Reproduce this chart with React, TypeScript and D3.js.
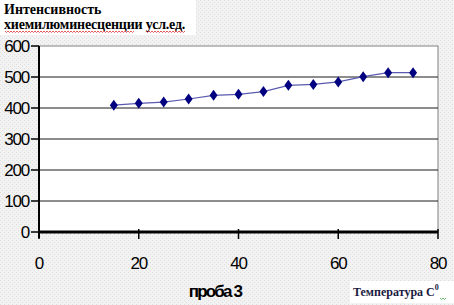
import React from "react";
import * as d3 from "d3";

const temperatures = [15, 20, 25, 30, 35, 40, 45, 50, 55, 60, 65, 70, 75];
const intensity = [409, 415, 419, 429, 441, 444, 453, 473, 476, 484, 501, 514, 514];
const xTicks = [0, 20, 40, 60, 80];
const yTicks = [0, 100, 200, 300, 400, 500, 600];
const titleLines = ["Интенсивность", "хиемилюминесценции усл.ед."];
const xTitle = "проба 3";
const unitLabel = "Температура C";

const SERIF = "'Liberation Serif', 'Times New Roman', 'DejaVu Serif', serif";
const SANS = "'Liberation Sans', Arial, sans-serif";

export default function App() {
  const W = 454, H = 305;
  const left = 39, right = 438, top = 46, bottom = 232;
  const x = d3.scaleLinear().domain([0, 80]).range([left, right]);
  const y = d3.scaleLinear().domain([0, 600]).range([bottom, top]);
  const line = d3.line<number>().x((_, i) => x(temperatures[i])).y((d) => y(d));
  const diamond = (cx: number, cy: number) =>
    `M${cx},${cy - 5.5}L${cx + 4},${cy}L${cx},${cy + 5.5}L${cx - 4},${cy}Z`;
  const squiggle = (x0: number, x1: number, yy: number) => {
    const pts: string[] = [];
    let k = 0;
    for (let xx = x0; xx <= x1; xx += 1.5) {
      pts.push(`${xx},${k % 2 === 0 ? yy : yy + 1.5}`);
      k++;
    }
    return "M" + pts.join("L");
  };
  return (
    <svg width={W} height={H} style={{ position: "absolute", left: 0, top: 0 }}>
      <defs>
        <pattern id="dith" width="4" height="4" patternUnits="userSpaceOnUse">
          <rect width="4" height="4" fill="#f2f2f2" />
          <rect x="0" y="0" width="1" height="1" fill="#dedede" />
          <rect x="2" y="2" width="1" height="1" fill="#dedede" />
        </pattern>
      </defs>
      <rect width={W} height={H} fill="url(#dith)" />
      <rect x={left} y={top} width={right - left} height={bottom - top} fill="#ffffff" stroke="#808080" strokeWidth={1} />
      {yTicks.filter((t) => t > 0 && t < 600).map((t) => (
        <line key={t} x1={left} x2={right} y1={y(t)} y2={y(t)} stroke="#1a1a1a" strokeWidth={1} />
      ))}
      <line x1={left} x2={left} y1={top} y2={bottom + 6} stroke="#000" strokeWidth={2} />
      <line x1={left - 1} x2={right} y1={bottom} y2={bottom} stroke="#000" strokeWidth={3} />
      {yTicks.map((t) => (
        <line key={t} x1={left - 8} x2={left} y1={y(t)} y2={y(t)} stroke="#000" strokeWidth={1.5} />
      ))}
      {xTicks.map((t) => (
        <line key={t} x1={x(t)} x2={x(t)} y1={bottom - 3} y2={bottom + 7} stroke="#000" strokeWidth={1.5} />
      ))}
      {yTicks.map((t) => (
        <text key={t} x={left - 10} y={y(t) + 6} textAnchor="end" fontFamily={SANS} fontSize={17} letterSpacing={-1.2} fill="#000">
          {t}
        </text>
      ))}
      {xTicks.map((t) => (
        <text key={t} x={x(t)} y={269} textAnchor="middle" fontFamily={SANS} fontSize={17} letterSpacing={-1.2} fill="#000">
          {t}
        </text>
      ))}
      <path d={line(intensity) || ""} fill="none" stroke="#5a5ab0" strokeWidth={1.2} />
      {intensity.map((v, i) => (
        <path key={i} d={diamond(x(temperatures[i]), y(v))} fill="#000080" />
      ))}
      <text x={215} y={297} textAnchor="middle" fontFamily={SANS} fontSize={17} fontWeight="bold" letterSpacing={-1.8} fill="#000">
        {xTitle}
      </text>
      <rect x={0} y={0} width={196} height={35} fill="#ffffff" />
      <text x={4} y={14} fontFamily={SERIF} fontSize={14} fontWeight="bold" fill="#000">
        {titleLines[0]}
      </text>
      <text x={4} y={29} fontFamily={SERIF} fontSize={14} fontWeight="bold" letterSpacing={-0.2} fill="#000">
        {titleLines[1]}
      </text>
      <path d={squiggle(5, 135, 31)} fill="none" stroke="#e03030" strokeWidth={0.8} />
      <path d={squiggle(146, 186, 31)} fill="none" stroke="#e03030" strokeWidth={0.8} />
      <rect x={350} y={281} width={104} height={22} fill="#ffffff" />
      <text x={353} y={296} fontFamily={SERIF} fontSize={12} fontWeight="bold" fill="#1a1a40">
        {unitLabel}
        <tspan dy={-6} fontSize={8}>0</tspan>
      </text>
      <path d={squiggle(440, 446, 298)} fill="none" stroke="#40a040" strokeWidth={0.8} />
    </svg>
  );
}
